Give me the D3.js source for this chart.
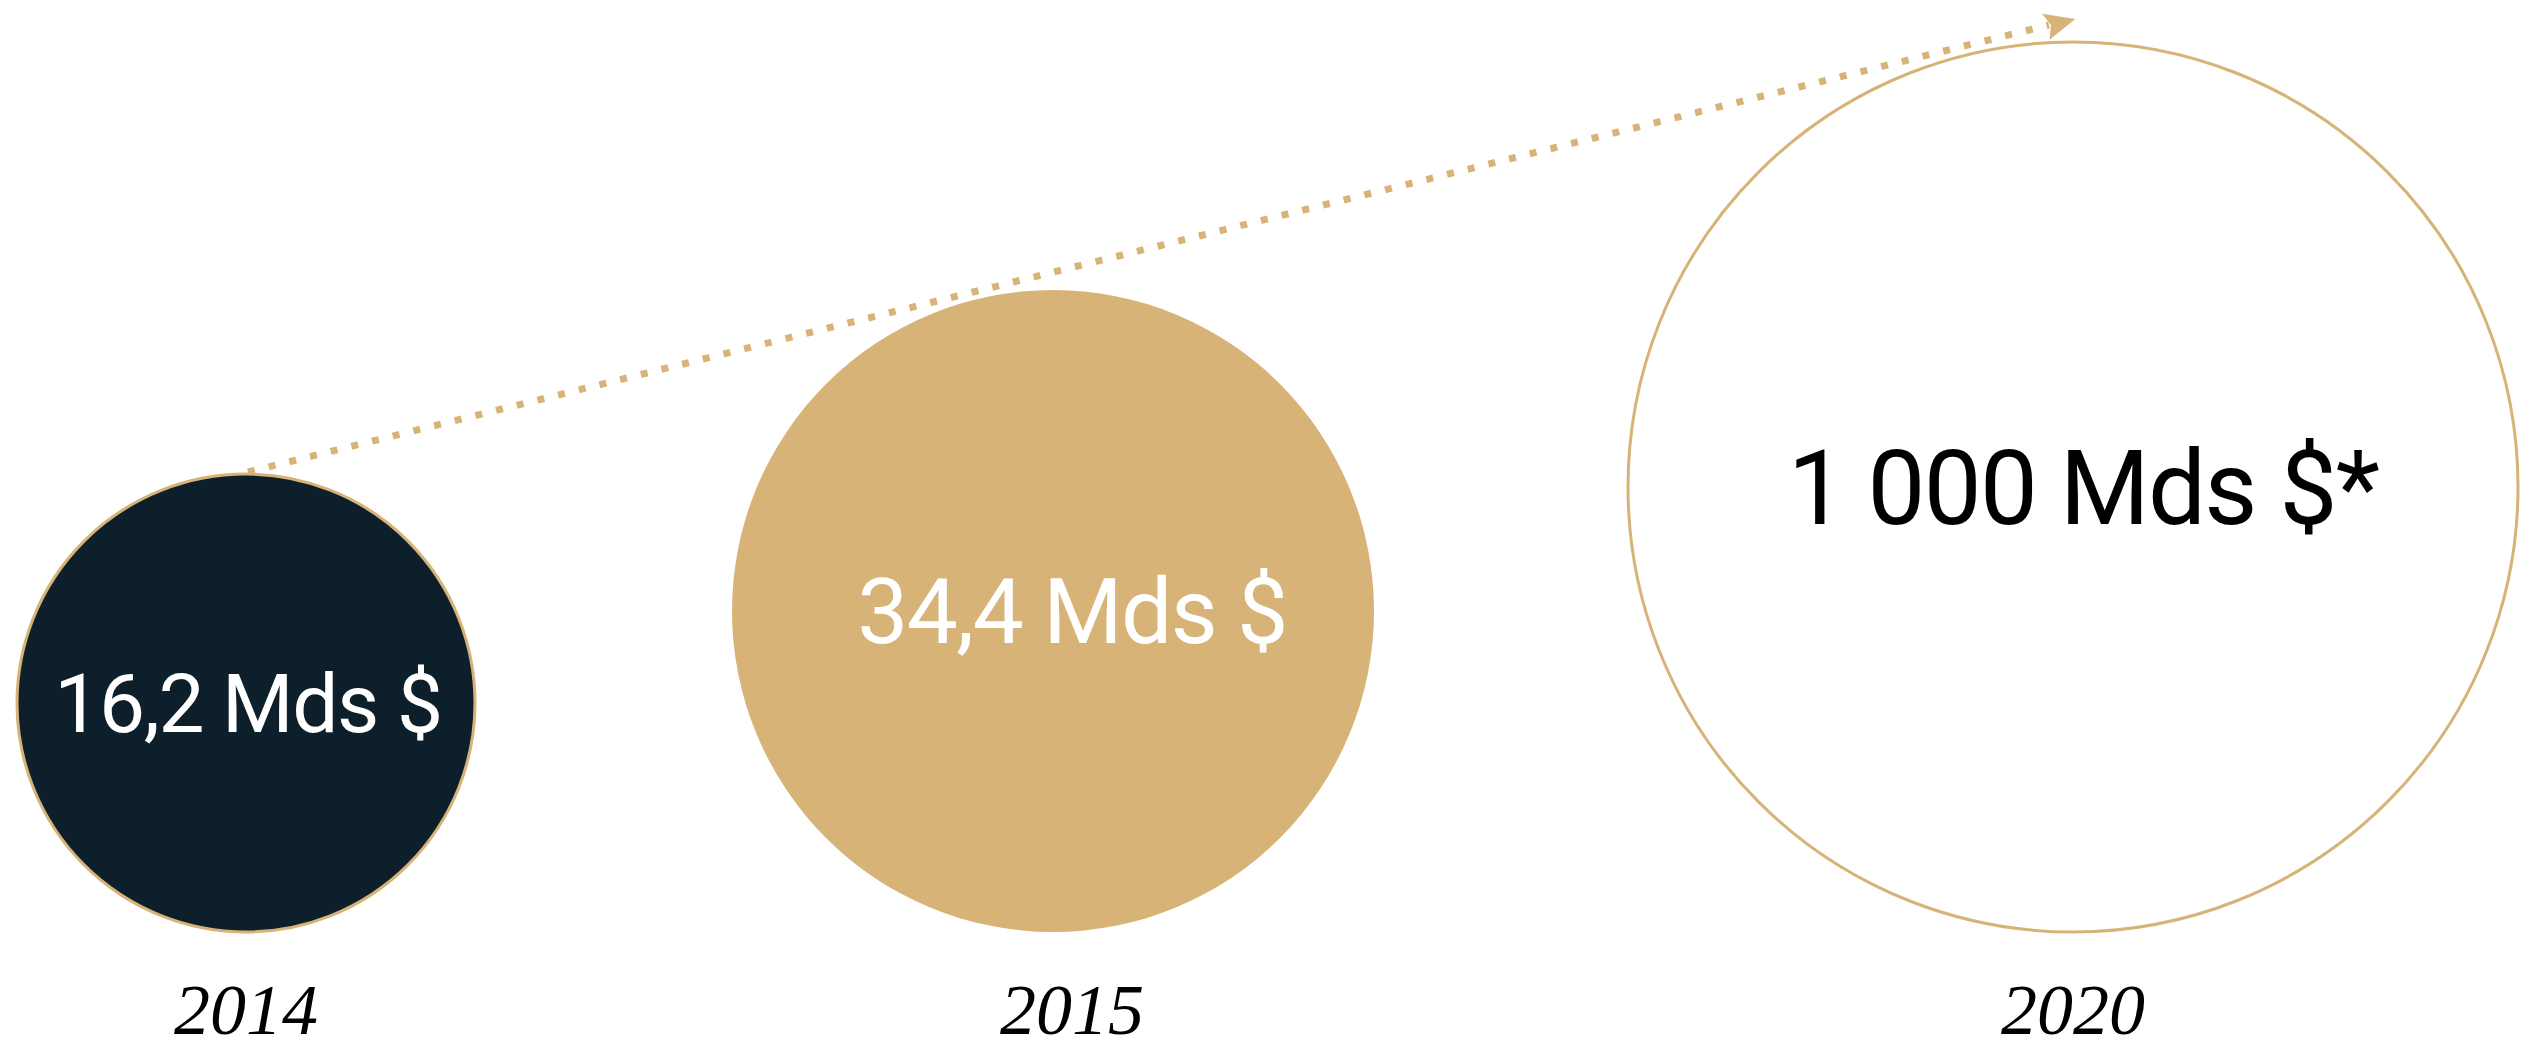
<!DOCTYPE html>
<html lang="fr">
<head>
    <meta charset="UTF-8">
    <title>Croissance</title>
    <script src="https://d3js.org/d3.v7.min.js"></script>
    <style>
        body{
            margin: 0;
            background-color: #ffffff;
        }
        .valeurs{
            font-family: 'Roboto', sans-serif;
            font-weight: 400;
            letter-spacing: -0.017em;
            text-anchor: middle;
        }
        .annees{
            font-family: 'Liberation Serif', 'Times New Roman', serif;
            font-style: italic;
            font-size: 72px;
            fill: #000000;
            text-anchor: middle;
        }
        .fleche{
            fill: none;
            stroke: #d7b377;
            stroke-width: 7;
            stroke-dasharray: 7 14.3;
        }
    </style>
</head>
<body>
<div id="grafico"></div>

<script>
var w = 2533;
var h = 1050;

// datos
var annees = ["2014", "2015", "2020"];
var montants = [16.2, 34.4, 1000];
var etiquettes = ["16,2 Mds $", "34,4 Mds $", "1 000 Mds $*"];

var or = "#d7b377";
var marine = "#0e1f2c";
var remplissage = [marine, or, "#ffffff"];
var couleurTexte = ["#ffffff", "#ffffff", "#000000"];

// escala de radios (no proporcional en el original, ilustrativa)
var rScale = d3.scaleLinear()
    .domain(montants)
    .range([229, 321, 445]);

var fontScale = d3.scaleLinear()
    .domain([229, 445])
    .range([82, 103]);

var base = 932;      // todos los círculos apoyados en la misma línea
var gauche = 17;
var ecart = [257, 254];
var decalage = [2, 19, 10];   // pequeño corrimiento de los textos

// posiciones en x: círculos separados por un hueco casi constante
var cercles = [];
var x = gauche;
montants.forEach(function(m, i){
    var r = rScale(m);
    cercles.push({
        annee: annees[i],
        etiquette: etiquettes[i],
        r: r,
        cx: x + r,
        cy: base - r,
        dx: decalage[i],
        fill: remplissage[i],
        texte: couleurTexte[i]
    });
    x = x + 2 * r + (ecart[i] || 0);
});

var svg = d3.select("#grafico")
    .append("svg")
    .attr("width", w)
    .attr("height", h);

// flecha punteada
var debut = [cercles[0].cx + 2, base - 2 * cercles[0].r - 2];
var fin = [cercles[2].cx - 24, base - 2 * cercles[2].r - 17];
var angle = Math.atan2(fin[1] - debut[1], fin[0] - debut[0]);

svg.append("line")
    .attr("class", "fleche")
    .attr("x1", debut[0])
    .attr("y1", debut[1])
    .attr("x2", fin[0])
    .attr("y2", fin[1]);

var pointe = d3.path();
pointe.moveTo(25, 0);
pointe.lineTo(-6, -13);
pointe.lineTo(0, 0);
pointe.lineTo(-5, 14);
pointe.closePath();

svg.append("path")
    .attr("d", pointe.toString())
    .attr("fill", or)
    .attr("transform", "translate(" + (fin[0] + 2) + "," + (fin[1]) + ") rotate(" + (angle * 180 / Math.PI) + ")");

var grupos = svg.selectAll("g.cercle")
    .data(cercles)
    .enter()
    .append("g")
    .attr("class", "cercle");

grupos.append("circle")
    .attr("cx", function(d){ return d.cx; })
    .attr("cy", function(d){ return d.cy; })
    .attr("r", function(d){ return d.r; })
    .attr("fill", function(d){ return d.fill; })
    .attr("stroke", function(d, i){ return i == 1 ? "none" : or; })
    .attr("stroke-width", 3);

grupos.append("text")
    .attr("class", "valeurs")
    .attr("x", function(d){ return d.cx + d.dx; })
    .attr("y", function(d){ return d.cy + fontScale(d.r) * 0.71 / 2; })
    .style("font-size", function(d){ return fontScale(d.r) + "px"; })
    .attr("fill", function(d){ return d.texte; })
    .text(function(d){ return d.etiquette; });

grupos.append("text")
    .attr("class", "annees")
    .attr("x", function(d, i){ return d.cx + (i == 1 ? d.dx : 0); })
    .attr("y", 1034)
    .text(function(d){ return d.annee; });
</script>
</body>
</html>
